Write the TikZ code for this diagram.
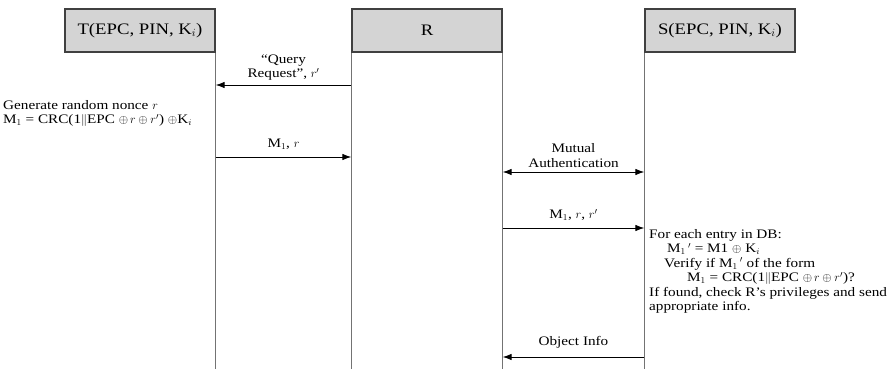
\documentclass[tikz,border=0pt]{standalone}
\usepackage{fontspec}
\setmainfont[FakeStretch=1.17]{Liberation Serif}
\usetikzlibrary{positioning, arrows.meta}

\begin{document}
\begin{tikzpicture}[x=1pt,y=-1pt,
  party/.style={draw=black!75, line width=1.3pt, fill=black!17, minimum width=150pt,
    minimum height=43pt, inner sep=0pt, font=\fontsize{16}{18}\selectfont},
  life/.style={draw=black!55, line width=1.4pt},
  msg/.style={-{Latex[length=9pt,width=6.5pt]}, line width=0.9pt},
  lbl/.style={font=\fontsize{13}{14.5}\selectfont, align=center, inner sep=1pt}]
\useasboundingbox (0,0) rectangle (895,369);

% parties
\node[party] (T) at (140,30.5) {T(EPC, PIN, K$_i$)};
\node[party] (R) at (427,30.5) {R};
\node[party] (S) at (720,30.5) {S(EPC, PIN, K$_i$)};

% lifelines
\draw[life] (T.south east) -- ++(0,317);
\draw[life] (R.south west) -- ++(0,317);
\draw[life] (R.south east) -- ++(0,317);
\draw[life] (S.south west) -- ++(0,317);

% messages
\draw[msg] (R.south west |- 0,85) -- (T.south east |- 0,85)
  node[midway, above=3pt, lbl] {``Query\\Request'', $r'$};
\draw[msg] (T.south east |- 0,157) -- (R.south west |- 0,157)
  node[midway, above=6pt, lbl] {M$_1$, $r$};
\draw[msg, {Latex[length=9pt,width=6.5pt]}-{Latex[length=9pt,width=6.5pt]}] (R.south east |- 0,172) -- (S.south west |- 0,172)
  node[midway, above=3pt, lbl] {Mutual\\Authentication};
\draw[msg] (R.south east |- 0,228) -- (S.south west |- 0,228)
  node[midway, above=6pt, lbl] {M$_1$, $r$, $r'$};
\draw[msg] (S.south west |- 0,357) -- (R.south east |- 0,357)
  node[midway, above=7pt, lbl] {Object Info};

% local computations
\node[lbl, align=left, anchor=north west] (gen) at (2,99)
  {Generate random nonce $r$\\
   M$_1$ = CRC(1$\|$EPC $\oplus\, r \oplus r'$) $\oplus$K$_i$};
\node[lbl, align=left, anchor=north west] (chk) at (648,228)
  {For each entry in DB:\\
   \hspace*{18pt}M$_1$\,$'$ = M1 $\oplus$ K$_i$\\
   \hspace*{15pt}Verify if M$_1$\,$'$ of the form\\
   \hspace*{38pt}M$_1$ = CRC(1$\|$EPC $\oplus\, r \oplus r'$)?\\
   If found, check R's privileges and send\\
   appropriate info.};
\end{tikzpicture}
\end{document}
